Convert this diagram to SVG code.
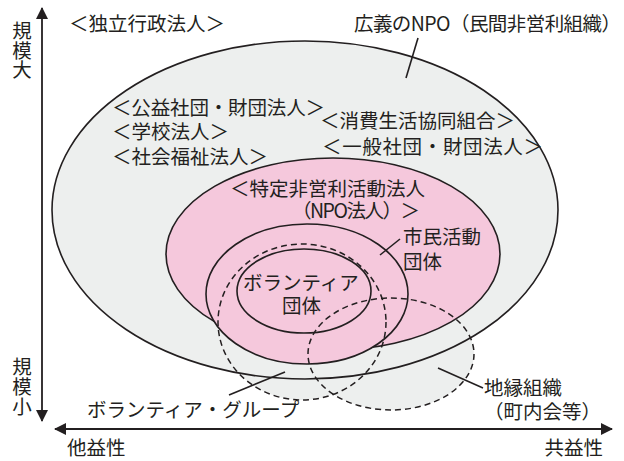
<svg xmlns="http://www.w3.org/2000/svg" width="624" height="461" viewBox="0 0 624 461">
<style>
text{font-family:"Noto Sans CJK JP","Noto Sans",sans-serif;font-size:19.5px;fill:#231f20}
.vt{writing-mode:vertical-rl;text-orientation:upright}
.ln{stroke:#231f20;stroke-width:1.6;fill:none}
.ds{stroke:#231f20;stroke-width:1.5;fill:none;stroke-dasharray:6 4}
.gr{fill:#edefee}
.ax{stroke:#231f20;stroke-width:1.8}
</style>
<defs>
<marker id="ah" viewBox="0 0 12 12" refX="11" refY="6" markerWidth="12" markerHeight="12" markerUnits="userSpaceOnUse" orient="auto">
<path d="M0,0 L12,6 L0,12 Z" fill="#231f20"/>
</marker>
</defs>
<g id="axes">
<line class="ax" x1="42" y1="214" x2="42" y2="8" marker-end="url(#ah)"/>
<line class="ax" x1="42" y1="214" x2="42" y2="421" marker-end="url(#ah)"/>
<line class="ax" x1="330" y1="429" x2="55" y2="429" marker-end="url(#ah)"/>
<line class="ax" x1="330" y1="429" x2="612" y2="429" marker-end="url(#ah)"/>
<text class="vt" x="22" y="21">規模大</text>
<text class="vt" x="22" y="357" style="letter-spacing:0.5px">規模小</text>
<text x="67" y="455">他益性</text>
<text x="603" y="455" text-anchor="end">共益性</text>
</g>
<g id="fills">
<ellipse class="gr" cx="302" cy="322" rx="84" ry="78"/>
<ellipse class="gr" cx="391" cy="354" rx="83" ry="56"/>
</g>
<g id="broad-npo">
<ellipse class="ln" cx="305" cy="210" rx="253" ry="169" style="fill:#edefee"/>
</g>
<g id="npo-houjin">
<ellipse class="ln" cx="333" cy="254" rx="167" ry="96" style="fill:#f5c8dc"/>
</g>
<g id="shimin">
<ellipse class="ln" cx="307" cy="294" rx="101" ry="70" style="fill:#f5c8dc"/>
</g>
<g id="volunteer-dantai">
<ellipse class="ln" cx="304" cy="291" rx="67" ry="42" style="fill:#f5c8dc"/>
<text x="243" y="290">ボランティア</text>
<text x="282" y="313">団体</text>
</g>
<g id="volunteer-group">
<ellipse class="ds" cx="302" cy="322" rx="84" ry="78"/>
<text x="87" y="417">ボランティア・グループ</text>
</g>
<g id="chien">
<ellipse class="ds" cx="391" cy="354" rx="83" ry="56"/>
<text x="484" y="395">地縁組織</text>
<text x="484" y="419">（町内会等）</text>
</g>
<g id="labels">
<text x="69" y="31">＜独立行政法人＞</text>
<text x="354" y="31" textLength="267" lengthAdjust="spacing">広義のNPO（民間非営利組織）</text>
<text x="112" y="115" textLength="213" lengthAdjust="spacing">＜公益社団・財団法人＞</text>
<text x="112" y="138.5">＜学校法人＞</text>
<text x="112" y="164">＜社会福祉法人＞</text>
<text x="320" y="128">＜消費生活協同組合＞</text>
<text x="322" y="153.5" textLength="221" lengthAdjust="spacing">＜一般社団・財団法人＞</text>
<text x="230" y="196">＜特定非営利活動法人</text>
<text x="292" y="218" textLength="128" lengthAdjust="spacing">（NPO法人）＞</text>
<text x="403" y="244">市民活動</text>
<text x="403" y="269">団体</text>
</g>
<g id="connectors">
<line class="ln" x1="418" y1="38" x2="406" y2="78"/>
<line class="ln" x1="400" y1="239" x2="380" y2="255"/>
<line class="ln" x1="229" y1="395" x2="285" y2="372"/>
<line class="ln" x1="438" y1="368" x2="483" y2="388"/>
</g>
</svg>
